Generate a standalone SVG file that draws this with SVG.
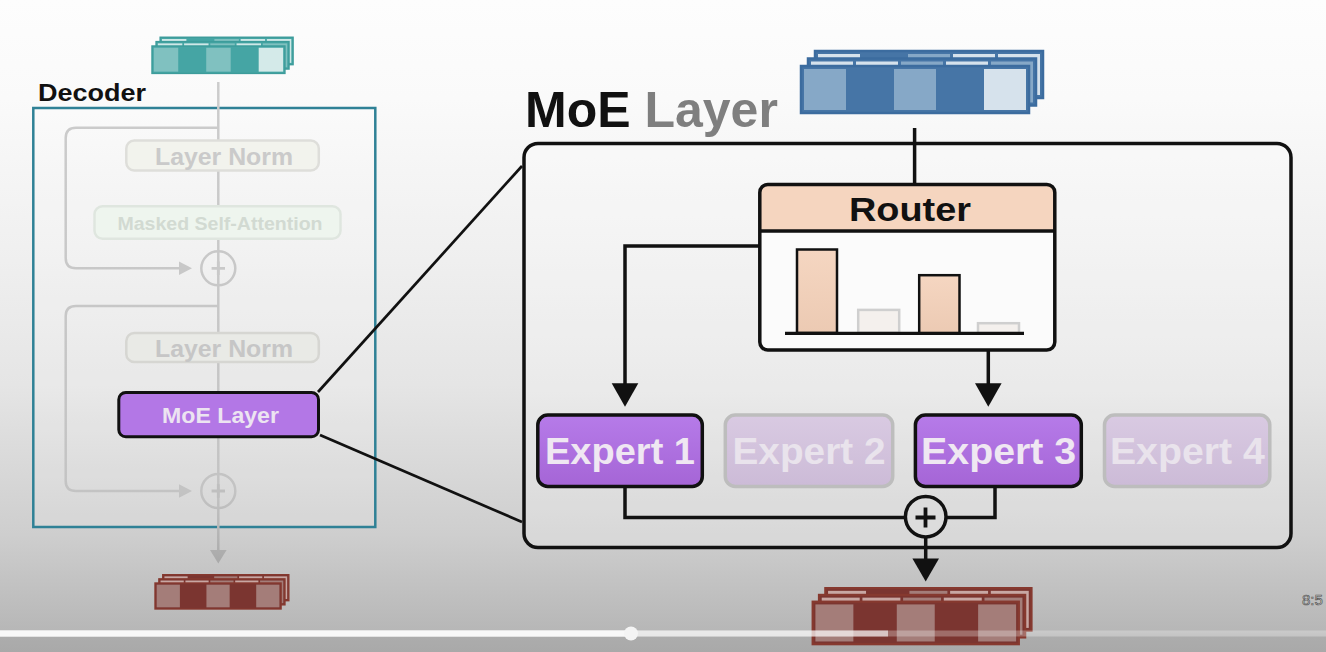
<svg xmlns="http://www.w3.org/2000/svg" xmlns:xlink="http://www.w3.org/1999/xlink" width="1326" height="652" viewBox="0 0 1326 652">
<defs>
<style>
.t{font-family:"Liberation Sans",Arial,sans-serif;font-weight:bold}
.gl{stroke:url(#lg);stroke-width:2.5;fill:none}
.bk{stroke:#111;stroke-width:3.5;fill:none}
.sb{fill:var(--d);stroke:var(--s);stroke-width:2.5}
.sm{fill:var(--m)}
.sl{fill:var(--l)}
.sf{fill:var(--f)}
.ex{fill:url(#pg);stroke:#111;stroke-width:3.5}
.exf{fill:url(#fg);stroke:#bdbdbd;stroke-width:3.5}
.ext{font-size:37px;fill:#efe7f2;text-anchor:middle}
.extf{font-size:37px;fill:#e9e3ec;text-anchor:middle}
.bar{fill:url(#peach);stroke:#111;stroke-width:2.5}
.barf{fill:#f4f0ed;stroke:#cfcfcf;stroke-width:2.5}
</style>
<linearGradient id="bg" x1="0" y1="0" x2="0" y2="652" gradientUnits="userSpaceOnUse">
<stop offset="0" stop-color="#fdfdfd"/>
<stop offset="0.15" stop-color="#fafafa"/>
<stop offset="0.4" stop-color="#efefef"/>
<stop offset="0.59" stop-color="#e5e5e5"/>
<stop offset="0.82" stop-color="#cecece"/>
<stop offset="0.935" stop-color="#bcbcbc"/>
<stop offset="0.966" stop-color="#b7b7b7"/>
<stop offset="0.978" stop-color="#acacac"/>
<stop offset="1" stop-color="#a9a9a9"/>
</linearGradient>
<linearGradient id="lg" x1="0" y1="80" x2="0" y2="565" gradientUnits="userSpaceOnUse">
<stop offset="0" stop-color="#cccccc"/>
<stop offset="0.85" stop-color="#c3c3c3"/>
<stop offset="0.93" stop-color="#b6b6b6"/>
<stop offset="1" stop-color="#a8a8a8"/>
</linearGradient>
<linearGradient id="pg" x1="0" y1="0" x2="0" y2="1">
<stop offset="0" stop-color="#b67be9"/>
<stop offset="1" stop-color="#a565d6"/>
</linearGradient>
<linearGradient id="fg" x1="0" y1="0" x2="0" y2="1">
<stop offset="0" stop-color="#d9cae2"/>
<stop offset="1" stop-color="#ccbbd7"/>
</linearGradient>
<linearGradient id="peach" x1="0" y1="0" x2="0" y2="1">
<stop offset="0" stop-color="#f5d6c1"/>
<stop offset="1" stop-color="#eccab3"/>
</linearGradient>
<g id="stk">
<g transform="translate(14,-15)">
<rect class="sb" width="228" height="47"/>
<rect class="sl" x="3" y="3" width="42" height="41"/>
<rect class="sm" x="93" y="3" width="42" height="41"/>
<rect class="sl" x="138" y="3" width="42" height="41"/>
<rect class="sl" x="183" y="3" width="42" height="41"/>
</g>
<g transform="translate(7,-7.5)">
<rect class="sb" width="228" height="47"/>
<rect class="sl" x="3" y="3" width="42" height="41"/>
<rect class="sl" x="48" y="3" width="42" height="41"/>
<rect class="sm" x="93" y="3" width="42" height="41"/>
<rect class="sl" x="138" y="3" width="42" height="41"/>
<rect class="sm" x="183" y="3" width="42" height="41"/>
</g>
<rect class="sb" width="228" height="47"/>
<rect class="sm" x="3" y="3" width="42" height="41"/>
<rect class="sm" x="93" y="3" width="42" height="41"/>
<rect class="sf" x="183" y="3" width="42" height="41"/>
</g>
</defs>

<rect width="1326" height="652" fill="url(#bg)"/>

<g id="decoder">
<rect x="33.3" y="108" width="342" height="419" fill="#ffffff" fill-opacity="0.15" stroke="#2f8196" stroke-width="2.5"/>
<text class="t" x="38" y="101" font-size="24" fill="#111" textLength="108" lengthAdjust="spacingAndGlyphs">Decoder</text>
</g>

<g id="moe-layer">
<rect x="524" y="143.5" width="767" height="404" rx="14" fill="#ffffff" fill-opacity="0.22" stroke="#111" stroke-width="3.5"/>
<text class="t" x="525" y="127" font-size="50"><tspan fill="#111">MoE</tspan><tspan fill="#7f7f7f"> Layer</tspan></text>
</g>

<g id="connectors">
<path class="gl" d="M218.3 82 V551"/>
<path class="gl" d="M218.3 127.7 H76 Q65.7 127.7 65.7 138 V258 Q65.7 268.3 76 268.3 H181"/>
<path class="gl" d="M218.3 306 H76 Q65.7 306 65.7 316 V481 Q65.7 491 76 491 H181"/>
<polygon points="179,261.6 192,268.3 179,275" fill="url(#lg)"/>
<polygon points="179,484.3 192,491 179,497.7" fill="url(#lg)"/>
<polygon points="210,550 226.6,550 218.3,563.5" fill="url(#lg)"/>
<line x1="318" y1="392" x2="522" y2="166" stroke="#111" stroke-width="2.7"/>
<line x1="320" y1="435" x2="522" y2="522" stroke="#111" stroke-width="2.7"/>
<path class="bk" d="M914.6 128 V184"/>
<path class="bk" d="M760 246 H625 V385"/>
<polygon points="611.7,383.3 638.3,383.3 625,406.7" fill="#111"/>
<path class="bk" d="M988.3 351 V385"/>
<polygon points="975,383.3 1001.6,383.3 988.3,406.7" fill="#111"/>
<path class="bk" d="M625 487 V517.5 H906"/>
<path class="bk" d="M995 487 V517.5 H945"/>
<path class="bk" d="M925.7 537 V560"/>
<polygon points="912.4,558.5 939,558.5 925.7,581.5" fill="#111"/>
</g>

<g id="decoder-nodes">
<g id="layer-norm-1">
<rect x="126.3" y="140.5" width="192.5" height="30" rx="8" fill="#f2f3ed" stroke="#dededa" stroke-width="2.5"/>
<text class="t" x="224" y="165" font-size="24" fill="#cacaca" text-anchor="middle" textLength="138" lengthAdjust="spacingAndGlyphs">Layer Norm</text>
</g>
<g id="masked-self-attention">
<rect x="94.5" y="206.3" width="246" height="32.5" rx="8" fill="#eef5ee" stroke="#dfe6df" stroke-width="2.5"/>
<text class="t" x="220" y="229.5" font-size="18" fill="#d2dad2" text-anchor="middle" textLength="205" lengthAdjust="spacingAndGlyphs">Masked Self-Attention</text>
</g>
<g id="add-1">
<circle cx="218.3" cy="268.3" r="17" fill="#f4f4f4" class="gl"/>
<path d="M211.6 268.3 H225 M218.3 261.6 V275" stroke="#c9c9c9" stroke-width="2.8"/>
</g>
<g id="layer-norm-2">
<rect x="126.3" y="333" width="192.5" height="29" rx="8" fill="#e9eae6" stroke="#d6d6d2" stroke-width="2.5"/>
<text class="t" x="224" y="356.7" font-size="24" fill="#c6c6c6" text-anchor="middle" textLength="138" lengthAdjust="spacingAndGlyphs">Layer Norm</text>
</g>
<g id="moe-small">
<rect x="118.8" y="392.5" width="199.7" height="44.3" rx="7" fill="#b377e6" stroke="#111" stroke-width="3"/>
<text class="t" x="220.5" y="423.3" font-size="22" fill="#ece4f1" text-anchor="middle" textLength="117" lengthAdjust="spacingAndGlyphs">MoE Layer</text>
</g>
<g id="add-2">
<circle cx="218.3" cy="491" r="17" fill="#dedede" class="gl"/>
<path d="M211.6 491 H225 M218.3 484.3 V497.7" stroke="#bfbfbf" stroke-width="2.8"/>
</g>
</g>

<g id="router">
<rect x="759.8" y="184.5" width="295" height="165.5" rx="8" fill="#fbfbfb"/>
<path d="M759.8 231 V192.5 Q759.8 184.5 767.8 184.5 H1046.8 Q1054.8 184.5 1054.8 192.5 V231 Z" fill="#f5d5bf"/>
<line x1="759.8" y1="231" x2="1054.8" y2="231" stroke="#111" stroke-width="3.5"/>
<rect x="759.8" y="184.5" width="295" height="165.5" rx="8" class="bk"/>
<text class="t" x="910" y="221" font-size="34" fill="#111" text-anchor="middle" textLength="122" lengthAdjust="spacingAndGlyphs">Router</text>
<rect class="bar" x="797" y="249.5" width="40" height="83.5"/>
<rect class="barf" x="858.2" y="309.9" width="41" height="23"/>
<rect class="bar" x="919.2" y="275.2" width="40.3" height="58"/>
<rect class="barf" x="978" y="323.2" width="41" height="10"/>
<line x1="785" y1="333.3" x2="1024" y2="333.3" stroke="#111" stroke-width="3.2"/>
</g>

<g id="expert-1">
<rect class="ex" x="537.8" y="415" width="164.5" height="71.5" rx="10"/>
<text class="t ext" x="620" y="464" textLength="150" lengthAdjust="spacingAndGlyphs">Expert 1</text>
</g>
<g id="expert-2">
<rect class="exf" x="725.3" y="415" width="167.4" height="71.5" rx="10"/>
<text class="t extf" x="809" y="464" textLength="153" lengthAdjust="spacingAndGlyphs">Expert 2</text>
</g>
<g id="expert-3">
<rect class="ex" x="915.4" y="415" width="165.9" height="71.5" rx="10"/>
<text class="t ext" x="998.6" y="464" textLength="155" lengthAdjust="spacingAndGlyphs">Expert 3</text>
</g>
<g id="expert-4">
<rect class="exf" x="1104.5" y="415" width="165.3" height="71.5" rx="10"/>
<text class="t extf" x="1187.4" y="464" textLength="155" lengthAdjust="spacingAndGlyphs">Expert 4</text>
</g>
<g id="add-moe">
<circle cx="925.7" cy="516.7" r="20.3" fill="#dcdcdc" stroke="#111" stroke-width="3.5"/>
<path d="M915.5 517.5 H935.5 M925.5 507.5 V527.5" stroke="#111" stroke-width="3.8"/>
</g>

<g id="tokens-in-decoder">
<use href="#stk" transform="translate(152,46) scale(0.583)" style="--d:#45a5a4;--m:#80c1c0;--l:#cfe8e7;--f:#d4eae9;--s:#3d9c9b"/>
</g>
<g id="tokens-in-moe">
<use href="#stk" transform="translate(801,66)" style="--d:#4675a6;--m:#86a8c7;--l:#d6e2ec;--f:#d6e2ec;--s:#3c6c9f"/>
</g>
<g id="tokens-out-decoder">
<use href="#stk" transform="translate(155,583) scale(0.553)" style="--d:#7b3530;--m:#a47d79;--l:#c8a7a3;--f:#a47d79;--s:#86392f"/>
</g>
<g id="tokens-out-moe">
<use href="#stk" transform="translate(812.7,601.7) scale(0.904)" style="--d:#7b3530;--m:#a47d79;--l:#c8a7a3;--f:#a47d79;--s:#86392f"/>
</g>

<g id="player">
<rect x="0" y="630.5" width="1326" height="6" fill="#ffffff" fill-opacity="0.28"/>
<rect x="0" y="630.5" width="888" height="6" fill="#ffffff" fill-opacity="0.6"/>
<rect x="0" y="630.5" width="631" height="6" fill="#f8f8f8"/>
<circle cx="631" cy="633.5" r="7" fill="#f4f4f4"/>
<text x="1302" y="605" font-family="Liberation Sans, Arial, sans-serif" font-size="15" fill="#e4e4e4" stroke="#555" stroke-width="0.7">8:5</text>
</g>
</svg>
